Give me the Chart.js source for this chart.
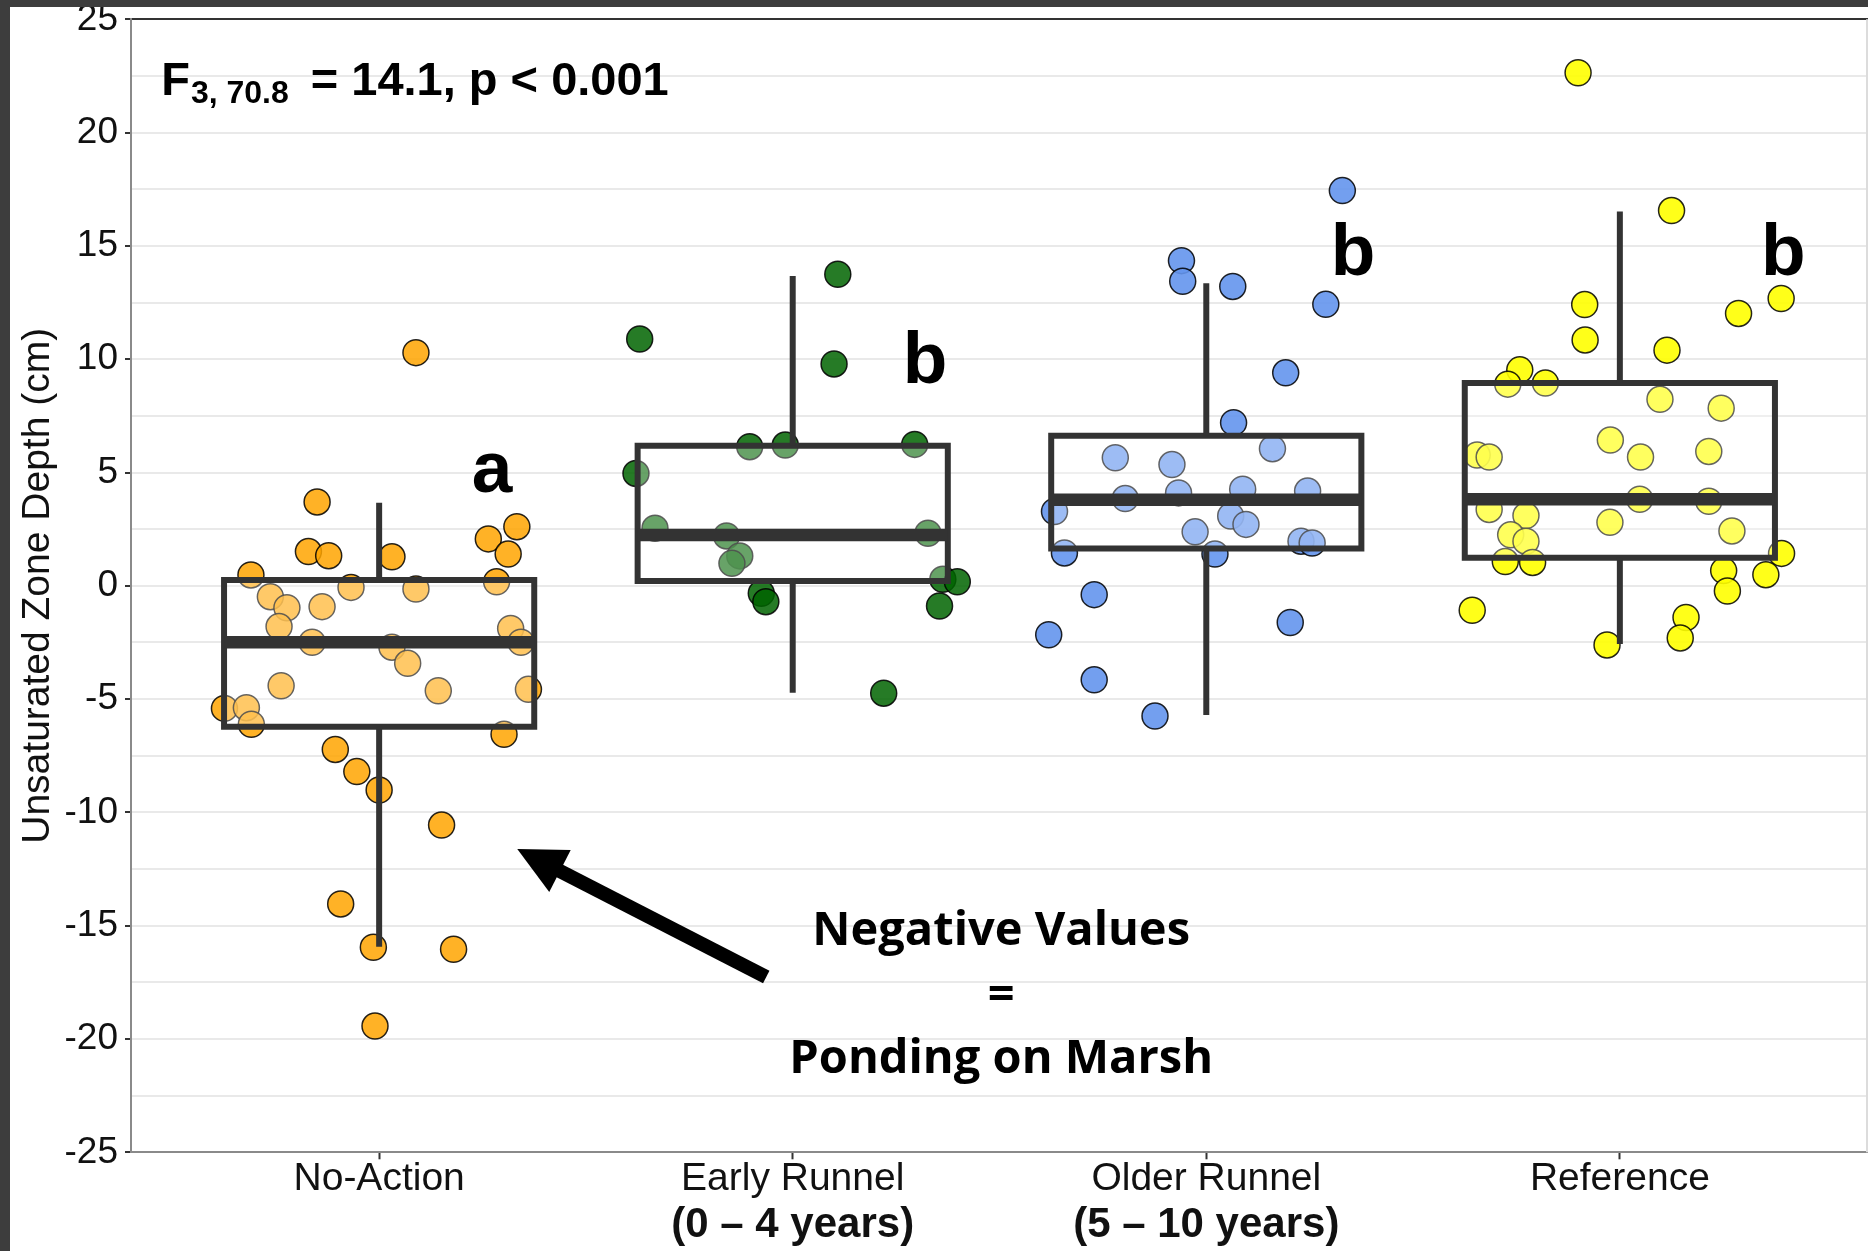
<!DOCTYPE html>
<html>
<head>
<meta charset="utf-8">
<script src="https://cdn.jsdelivr.net/npm/chart.js@4.4.1/dist/chart.umd.min.js"></script>
<style>
html,body{margin:0;padding:0;background:#3d3d3d;overflow:hidden;width:1868px;height:1251px;}
#wrap{position:absolute;left:10px;top:7px;width:1858px;height:1244px;background:#ffffff;}
canvas{display:block;}
</style>
</head>
<body>
<div id="wrap"><canvas id="c" width="1858" height="1244"></canvas></div>
<script>
// ---------------- data ----------------
const categories = ['No-Action', 'Early Runnel', 'Older Runnel', 'Reference'];
const categorySubLabels = ['', '(0 \u2013 4 years)', '(5 \u2013 10 years)', ''];
const yTickLabels = [-25, -20, -15, -10, -5, 0, 5, 10, 15, 20, 25];

const noActionY = [10.29, 3.70, 1.51, 1.33, 1.28, 2.07, 2.61, 1.40, 0.48, 0.18, -0.48, -0.97, -0.92, -0.07, -0.14, -1.80, -2.49, -1.88, -2.49, -2.71, -3.42, -4.41, -4.63, -4.57, -5.41, -5.38, -6.11, -6.55, -7.22, -8.20, -9.01, -10.56, -14.04, -15.95, -16.04, -19.43];
const noActionJitter = [0.089, -0.150, -0.171, -0.122, 0.031, 0.264, 0.333, 0.312, -0.310, 0.284, -0.263, -0.223, -0.138, -0.068, 0.089, -0.242, -0.162, 0.318, 0.343, 0.031, 0.069, -0.237, 0.143, 0.361, -0.374, -0.321, -0.309, 0.302, -0.106, -0.054, 0.000, 0.151, -0.093, -0.014, 0.180, -0.010];

const earlyRunnelY = [13.75, 10.89, 9.79, 6.14, 6.21, 6.24, 4.96, 2.54, 2.20, 2.32, 1.32, 0.99, 0.29, 0.18, -0.33, -0.70, -0.89, -4.74];
const earlyRunnelJitter = [0.109, -0.370, 0.100, -0.104, -0.018, 0.295, -0.379, -0.333, -0.160, 0.327, -0.128, -0.147, 0.363, 0.398, -0.076, -0.065, 0.355, 0.220];

const olderRunnelY = [17.44, 14.35, 13.44, 13.21, 12.42, 9.40, 7.20, 6.05, 5.65, 5.35, 3.85, 4.10, 4.26, 4.18, 3.28, 3.08, 2.71, 2.38, 1.97, 1.89, 1.45, 1.40, -0.39, -1.62, -2.16, -4.15, -5.75];
const olderRunnelJitter = [0.329, -0.060, -0.057, 0.064, 0.289, 0.192, 0.066, 0.160, -0.220, -0.083, -0.196, -0.067, 0.088, 0.245, -0.367, 0.059, 0.096, -0.027, 0.229, 0.256, -0.343, 0.021, -0.271, 0.203, -0.381, -0.271, -0.124];

const referenceY = [22.64, 16.56, 12.68, 12.02, 12.41, 10.85, 10.40, 9.53, 8.90, 8.95, 8.23, 7.84, 6.43, 5.77, 5.68, 5.68, 5.93, 3.82, 3.73, 3.37, 3.10, 2.80, 2.42, 2.25, 1.97, 1.07, 1.03, 1.43, 0.67, 0.49, -0.23, -1.08, -1.40, -2.30, -2.61];
const referenceJitter = [-0.101, 0.125, 0.390, 0.287, -0.085, -0.084, 0.114, -0.242, -0.271, -0.180, 0.097, 0.245, -0.023, -0.345, -0.316, 0.050, 0.215, 0.048, 0.215, -0.316, -0.227, -0.024, 0.271, -0.264, -0.227, -0.277, -0.211, 0.391, 0.251, 0.353, 0.260, -0.357, 0.160, 0.146, -0.031];

const whiskerLow  = [-15.93, -4.72, -5.70, -2.57];
const boxQ1       = [-6.22, 0.21, 1.65, 1.24];
const boxMedian   = [-2.49, 2.24, 3.80, 3.82];
const boxQ3       = [0.26, 6.18, 6.62, 8.95];
const whiskerHigh = [3.66, 13.67, 13.35, 16.52];

const groupLetters = ['a', 'b', 'b', 'b'];
const statMain = 'F';
const statSub = '3, 70.8';
const statRest = '= 14.1, p < 0.001';
const noteLines = ['Negative Values', '=', 'Ponding on Marsh'];

// ---------------- styling / placement ----------------
const FONT = '"Liberation Sans", Arial, Helvetica, sans-serif';
const NOTE_FONT = '"Open Sans", "Noto Sans", sans-serif';
const pointFills = ['rgba(255,165,0,0.85)', 'rgba(0,100,0,0.85)', 'rgba(100,149,237,0.9)', 'rgba(255,255,0,0.9)'];
const BOX_HALF = 0.375;
const BOX_COLOR = '#333333';
const layoutCfg = {
  statPos: {x: 0.473, y: 21.66},
  letterPos: [{x: 1.273, y: 4.14}, {x: 2.320, y: 8.95}, {x: 3.355, y: 13.72}, {x: 4.395, y: 13.73}],
  notePos: {x: 2.504, y: [-15.85, -18.70, -21.50]},
  arrowTip: {x: 1.334, y: -11.62},
  arrowTail: {x: 1.936, y: -17.26}
};

const groupsY = [noActionY, earlyRunnelY, olderRunnelY, referenceY];
const groupsJ = [noActionJitter, earlyRunnelJitter, olderRunnelJitter, referenceJitter];

const datasets = [];
categories.forEach((name, i) => {
  const cx = i + 1;
  // box (white translucent fill over points + outline)
  datasets.push({
    type: 'line', order: 2,
    data: [
      {x: cx - BOX_HALF, y: boxQ1[i]}, {x: cx - BOX_HALF, y: boxQ3[i]},
      {x: cx + BOX_HALF, y: boxQ3[i]}, {x: cx + BOX_HALF, y: boxQ1[i]},
      {x: cx - BOX_HALF, y: boxQ1[i]}, {x: cx - BOX_HALF, y: boxQ3[i]}
    ],
    showLine: true, fill: 'shape', backgroundColor: 'rgba(255,255,255,0.3)',
    borderColor: BOX_COLOR, borderWidth: 6, borderJoinStyle: 'miter', borderCapStyle: 'butt',
    pointRadius: 0, tension: 0
  });
  // median
  datasets.push({
    type: 'line', order: 1,
    data: [{x: cx - BOX_HALF, y: boxMedian[i]}, {x: cx + BOX_HALF, y: boxMedian[i]}],
    borderColor: BOX_COLOR, borderWidth: 12.5, borderCapStyle: 'butt', pointRadius: 0, fill: false
  });
  // whiskers
  datasets.push({
    type: 'line', order: 1,
    data: [{x: cx, y: boxQ3[i]}, {x: cx, y: whiskerHigh[i]}],
    borderColor: BOX_COLOR, borderWidth: 6, borderCapStyle: 'butt', pointRadius: 0, fill: false
  });
  datasets.push({
    type: 'line', order: 1,
    data: [{x: cx, y: whiskerLow[i]}, {x: cx, y: boxQ1[i]}],
    borderColor: BOX_COLOR, borderWidth: 6, borderCapStyle: 'butt', pointRadius: 0, fill: false
  });
  // jittered points
  datasets.push({
    type: 'scatter', order: 10, label: name,
    data: groupsY[i].map((v, k) => ({x: cx + groupsJ[i][k], y: v})),
    backgroundColor: pointFills[i], borderColor: 'rgba(0,0,0,0.85)', borderWidth: 1.5,
    pointRadius: 13, pointHoverRadius: 13
  });
});

const annotationPlugin = {
  id: 'annotations',
  afterDatasetsDraw(chart) {
    const {ctx} = chart;
    const xs = chart.scales.x, ys = chart.scales.y;
    const ca = chart.chartArea;
    ctx.save();
    // right panel edge
    ctx.strokeStyle = '#dcdcdc'; ctx.lineWidth = 2;
    ctx.beginPath(); ctx.moveTo(ca.right - 1, ca.top); ctx.lineTo(ca.right - 1, ca.bottom); ctx.stroke();

    ctx.fillStyle = '#000';
    ctx.textBaseline = 'alphabetic';
    ctx.textAlign = 'left';
    // statistic
    let px = xs.getPixelForValue(layoutCfg.statPos.x);
    const py = ys.getPixelForValue(layoutCfg.statPos.y);
    ctx.font = 'bold 47px ' + FONT;
    ctx.fillText(statMain, px, py);
    px += ctx.measureText(statMain).width + 1;
    ctx.font = 'bold 32px ' + FONT;
    ctx.fillText(statSub, px, py + 8);
    px += ctx.measureText(statSub).width + 22;
    ctx.font = 'bold 47px ' + FONT;
    ctx.fillText(statRest, px, py);

    // group letters
    ctx.textAlign = 'center';
    ctx.font = 'bold 73px ' + FONT;
    groupLetters.forEach((t, i) => {
      ctx.fillText(t, xs.getPixelForValue(layoutCfg.letterPos[i].x), ys.getPixelForValue(layoutCfg.letterPos[i].y));
    });

    // note
    ctx.font = 'bold 47px ' + NOTE_FONT;
    noteLines.forEach((t, i) => {
      ctx.fillText(t, xs.getPixelForValue(layoutCfg.notePos.x), ys.getPixelForValue(layoutCfg.notePos.y[i]));
    });

    // arrow
    const tx = xs.getPixelForValue(layoutCfg.arrowTip.x), ty = ys.getPixelForValue(layoutCfg.arrowTip.y);
    const sx = xs.getPixelForValue(layoutCfg.arrowTail.x), sy = ys.getPixelForValue(layoutCfg.arrowTail.y);
    const ang = Math.atan2(ty - sy, tx - sx);
    const hl = 48, hw = 23.5;
    const bx = tx - hl * Math.cos(ang), by = ty - hl * Math.sin(ang);
    ctx.strokeStyle = '#000'; ctx.lineWidth = 14; ctx.lineCap = 'butt';
    ctx.beginPath(); ctx.moveTo(sx, sy); ctx.lineTo(bx + 4 * Math.cos(ang), by + 4 * Math.sin(ang)); ctx.stroke();
    ctx.beginPath();
    ctx.moveTo(tx, ty);
    ctx.lineTo(bx + hw * Math.sin(ang), by - hw * Math.cos(ang));
    ctx.lineTo(bx - hw * Math.sin(ang), by + hw * Math.cos(ang));
    ctx.closePath(); ctx.fill();
    ctx.restore();
  }
};

Chart.defaults.font.family = FONT;
new Chart(document.getElementById('c'), {
  type: 'scatter',
  data: {datasets},
  options: {
    responsive: false,
    animation: false,
    events: [],
    layout: {autoPadding: false, padding: {top: 12.3, left: 0, right: 0, bottom: 0}},
    plugins: {legend: {display: false}, tooltip: {enabled: false}},
    scales: {
      x: {
        type: 'linear', position: 'bottom', weight: 0, min: 0.4, max: 4.6,
        afterBuildTicks: s => { s.ticks = categories.map((_, i) => ({value: i + 1})); },
        afterFit: s => { s.height = 48; s.paddingLeft = 0; s.paddingRight = 0; },
        grid: {drawOnChartArea: false, drawTicks: true, tickLength: 7, tickColor: '#333', tickWidth: 2},
        border: {display: true, color: '#8a8a8a', width: 2},
        ticks: {
          autoSkip: false, maxRotation: 0, minRotation: 0, padding: 0, color: '#111',
          font: {family: FONT, size: 39, lineHeight: 1},
          callback: v => categories[Math.round(v) - 1] ?? ''
        }
      },
      x2: {
        type: 'linear', position: 'bottom', weight: 1, min: 0.4, max: 4.6,
        afterBuildTicks: s => { s.ticks = categories.map((_, i) => ({value: i + 1})); },
        afterFit: s => { s.height = 50.7; s.paddingLeft = 0; s.paddingRight = 0; },
        grid: {display: false, drawTicks: false, tickLength: 0},
        border: {display: false},
        ticks: {
          autoSkip: false, maxRotation: 0, minRotation: 0, padding: 4, color: '#111',
          font: {family: FONT, size: 42, weight: 'bold', lineHeight: 1},
          callback: v => categorySubLabels[Math.round(v) - 1] ?? ''
        }
      },
      y: {
        type: 'linear', min: -25, max: 25,
        afterFit: s => { s.width = 121; s.paddingTop = 0; s.paddingBottom = 0; },
        ticks: {
          stepSize: 2.5, autoSkip: false, padding: 7, color: '#111',
          font: {family: FONT, size: 37},
          callback: v => yTickLabels.includes(v) ? String(v) : ''
        },
        grid: {
          color: c => (c.tick && c.tick.value === 25) ? '#333333' : '#e9e9e9',
          lineWidth: 2, drawTicks: true, tickLength: 6, tickWidth: 2,
          tickColor: c => (c.tick && yTickLabels.includes(c.tick.value)) ? '#333333' : 'rgba(0,0,0,0)'
        },
        border: {display: true, color: '#8a8a8a', width: 2},
        title: {
          display: true, text: 'Unsaturated Zone Depth (cm)', color: '#111',
          font: {family: FONT, size: 39, lineHeight: 1.2}, padding: {top: 5, bottom: 0}
        }
      }
    }
  },
  plugins: [annotationPlugin]
});
</script>
</body>
</html>
